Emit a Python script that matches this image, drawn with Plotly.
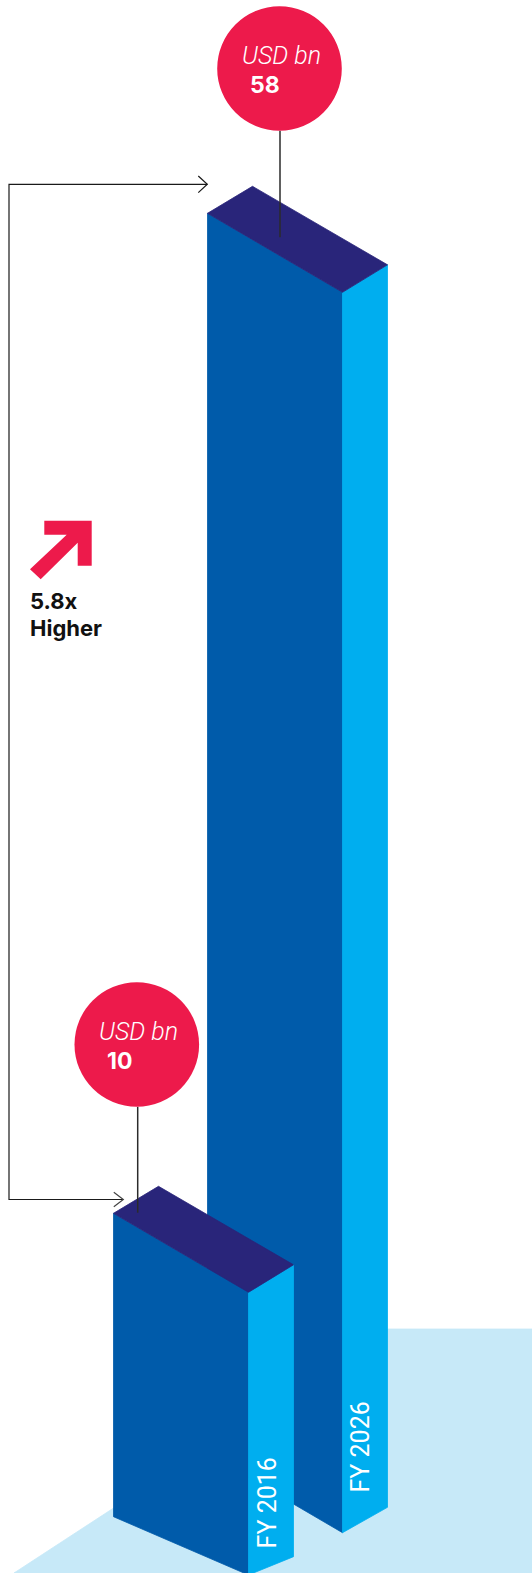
import plotly.graph_objects as go

# ---------------- data ----------------
categories = ["FY 2016", "FY 2026"]
values = [10, 58]
unit_label = "USD bn"
growth_text = ["5.8x", "Higher"]

# ---------------- layout constants ----------------
W, H = 532, 1573
PX_PER_UNIT = 1000 / 48.0          # vertical scale: pixels per value unit
Y_TOP = 58 + 213.3 / PX_PER_UNIT   # value at the top edge of the canvas


def Y(px):
    """convert a screen pixel row into the value axis"""
    return Y_TOP - px / PX_PER_UNIT


def D(px):
    return px / PX_PER_UNIT


NAVY = "#29257A"
BLUE = "#005BAA"
CYAN = "#00AEEF"
FLOOR = "#C7E9F8"
RED = "#ED1A4B"

# isometric geometry (pixel offsets from the front-left top corner)
FRONT = (135.0, 79.0)
BACK = (45.0, -27.0)
RIGHT = (180.0, 51.5)
bar_x0 = [113.5, 207.5]
bar_base_px = [(1516.7, 1575.0, 1556.7), (1453.7, 1532.7, 1507.3)]  # left, front, right bottoms
circle_c = [(136.8, 1044.5), (279.5, 68.5)]
circle_r = 62.3
leader_x = [137.7, 280.0]
leader_end = [1212.7, 237.3]

fig = go.Figure()


def poly(xs, ys, color):
    fig.add_trace(go.Scatter(
        x=list(xs) + [xs[0]], y=list(ys) + [ys[0]], mode="lines",
        fill="toself", fillcolor=color, line=dict(color=color, width=0.8),
        hoverinfo="skip", showlegend=False))


# floor
poly([14, 388, 532, 532], [Y(1573), Y(1329), Y(1329), Y(1573)], FLOOR)

# bars (back one first)
order = sorted(range(len(values)), key=lambda i: -bar_x0[i])
for i in order:
    v = values[i]
    x0 = bar_x0[i]
    bl, bf, br = (Y(p) for p in bar_base_px[i])
    # front face
    poly([x0, x0 + FRONT[0], x0 + FRONT[0], x0],
         [v, v - D(FRONT[1]), bf, bl], BLUE)
    # side face
    poly([x0 + FRONT[0], x0 + RIGHT[0], x0 + RIGHT[0], x0 + FRONT[0]],
         [v - D(FRONT[1]), v - D(RIGHT[1]), br, bf], CYAN)
    # top face
    poly([x0, x0 + BACK[0], x0 + RIGHT[0], x0 + FRONT[0]],
         [v, v - D(BACK[1]), v - D(RIGHT[1]), v - D(FRONT[1])], NAVY)

shapes = []
annotations = []

# leader lines, bubbles, labels
for i, v in enumerate(values):
    cx, cy = circle_c[i]
    shapes.append(dict(type="line", xref="x", yref="y",
                       x0=leader_x[i], x1=leader_x[i],
                       y0=Y(cy + circle_r), y1=Y(leader_end[i]),
                       line=dict(color="#2b2b2b", width=1.5)))
    shapes.append(dict(type="circle", xref="x", yref="y",
                       x0=cx - circle_r, x1=cx + circle_r,
                       y0=Y(cy + circle_r), y1=Y(cy - circle_r),
                       fillcolor=RED, line=dict(width=0)))
    annotations.append(dict(x=cx + 1.7, y=Y(cy - 13.5), xref="x", yref="y",
                            text=unit_label, showarrow=False,
                            xanchor="center", yanchor="middle",
                            font=dict(family="Roboto", size=25, color="white",
                                      style="italic", weight=300)))
    annotations.append(dict(x=cx - 31.5, y=Y(cy + 16.5), xref="x", yref="y",
                            text=f"<b>{v}</b>", showarrow=False,
                            xanchor="left", yanchor="middle",
                            font=dict(family="Inter", size=23, color="white")))

# category labels on the side faces
label_pos = [(267.5, 1502.9), (360.0, 1447.5)]
for i, c in enumerate(categories):
    lx, ly = label_pos[i]
    annotations.append(dict(x=lx, y=Y(ly), xref="x", yref="y", text=c,
                            showarrow=False, textangle=-90,
                            xanchor="center", yanchor="middle",
                            font=dict(family="Roboto", size=25, color="white",
                                      weight=400)))

# bracket with arrow heads
BR_X = 9.0
top_y, bot_y = 184.3, 1199.5
shapes.append(dict(type="path", xref="x", yref="y",
                   path=f"M 207.3,{Y(top_y)} L {BR_X},{Y(top_y)} L {BR_X},{Y(bot_y)} L 123.3,{Y(bot_y)}",
                   line=dict(color="#1a1a1a", width=1.2)))
shapes.append(dict(type="path", xref="x", yref="y",
                   path=f"M 198.3,{Y(176)} L 207.3,{Y(top_y)} L 198.3,{Y(192.6)}",
                   line=dict(color="#1a1a1a", width=1.2)))
shapes.append(dict(type="path", xref="x", yref="y",
                   path=f"M 113.8,{Y(1192.3)} L 123.3,{Y(bot_y)} L 113.8,{Y(1206.7)}",
                   line=dict(color="#444444", width=1.2)))

# red growth arrow icon
arrow_pts = [(44.3, 520.7), (91.7, 520.7), (91.7, 565.7), (77.7, 565.7), (77.7, 542.7),
             (40.7, 579.3), (30.0, 569.3), (66.7, 534.7), (44.3, 534.7)]
path = "M " + " L ".join(f"{x},{Y(y)}" for x, y in arrow_pts) + " Z"
shapes.append(dict(type="path", xref="x", yref="y", path=path,
                   fillcolor=RED, line=dict(width=0)))

annotations.append(dict(x=28, y=Y(601), xref="x", yref="y",
                        text=f"<b>{growth_text[0]}</b>", showarrow=False,
                        xanchor="left", yanchor="middle",
                        font=dict(family="Inter", size=22, color="#111111")))
annotations.append(dict(x=28, y=Y(628), xref="x", yref="y",
                        text=f"<b>{growth_text[1]}</b>", showarrow=False,
                        xanchor="left", yanchor="middle",
                        font=dict(family="Inter", size=22, color="#111111")))

fig.update_layout(
    width=W, height=H, margin=dict(l=0, r=0, t=0, b=0),
    paper_bgcolor="white", plot_bgcolor="white",
    xaxis=dict(range=[0, W], visible=False, fixedrange=True),
    yaxis=dict(range=[Y(H), Y(0)], visible=False, fixedrange=True),
    shapes=shapes, annotations=annotations, showlegend=False,
)

fig.write_html("out.html", config={"displayModeBar": False})
